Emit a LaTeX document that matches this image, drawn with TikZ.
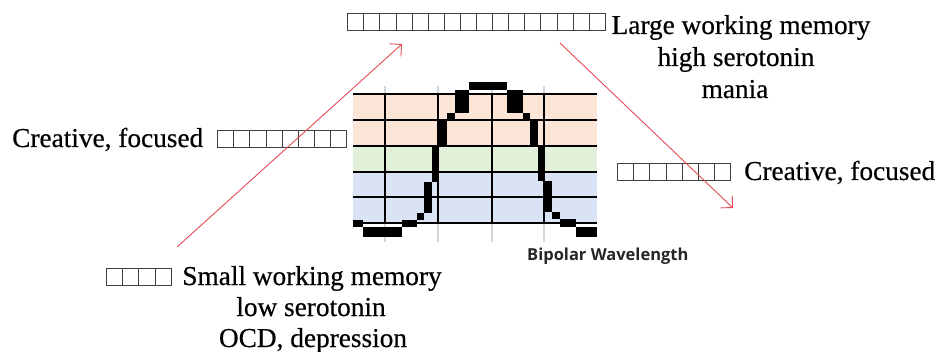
\documentclass[tikz,border=0pt]{standalone}
\usepackage{fontspec}
\setmainfont{Liberation Serif}
\newfontfamily\heavyserif{Liberation Serif}[FakeBold=0.45]
\newfontfamily\labelfont{Open Sans}
\usetikzlibrary{arrows.meta}
\definecolor{bandorange}{HTML}{FBE5D6}
\definecolor{bandgreen}{HTML}{E2F0D9}
\definecolor{bandblue}{HTML}{DAE3F3}
\definecolor{arrowred}{RGB}{232,72,86}
\definecolor{tofugray}{HTML}{404040}
\definecolor{ticklight}{HTML}{D6D6D6}
\newcount\tofucnt
\newcommand\tofurow[1]{\hbox{\color{tofugray}\tofucnt=0 \vrule width 0.9pt\loop\ifnum\tofucnt<#1 \advance\tofucnt 1 \vbox{\hrule height 0.9pt\hbox to 15.2pt{\vrule height 16.4pt width 0pt\hfil}\hrule height 0.9pt}\vrule width 0.9pt\repeat}}
\tikzset{
  bigtext/.style={font=\heavyserif\fontsize{27.3}{32}\selectfont, inner sep=0pt},
  tofunode/.style={inner sep=0pt, anchor=south west},
  redarrow/.style={draw=arrowred, line width=0.9pt, -{Straight Barb[length=8.5pt,width=17pt]}},
  hline/.style={line width=2.6pt, black},
  vline/.style={line width=1.6pt, black},
  tick/.style={line width=1.2pt, ticklight},
  pix/.style={fill=black}
}
\begin{document}
\begin{tikzpicture}[x=1pt,y=-1pt]
\useasboundingbox (0,0) rectangle (941,352);
% bands
\fill[bandorange] (353,94) rectangle (597,146);
\fill[bandgreen] (353,146) rectangle (597,172);
\fill[bandblue] (353,172) rectangle (597,223);
% light ticks
\foreach \x in {385,438,492,544} \draw[tick] (\x,86) -- (\x,242);
\foreach \x in {385,438,492,544} \draw[vline] (\x,94) -- (\x,223);
% horizontal lines
\foreach \y in {94,120,146,172,197,223} \draw[hline] (353,\y) -- (597,\y);
% curve (pixel blocks)
\fill[pix] (353,220) rectangle (363,227);
\fill[pix] (363,227) rectangle (402,237);
\fill[pix] (402,220) rectangle (417,227);
\fill[pix] (417,213) rectangle (424,220);
\fill[pix] (424,182) rectangle (432,213);
\fill[pix] (432,146) rectangle (439,182);
\fill[pix] (439,120) rectangle (447,146);
\fill[pix] (447,113) rectangle (455,120);
\fill[pix] (455,90) rectangle (469,113);
\fill[pix] (469,82) rectangle (507,90);
\fill[pix] (507,90) rectangle (523,113);
\fill[pix] (523,113) rectangle (530,120);
\fill[pix] (530,120) rectangle (538,145);
\fill[pix] (538,145) rectangle (545,181);
\fill[pix] (544,181) rectangle (552,212);
\fill[pix] (552,212) rectangle (560,219);
\fill[pix] (560,219) rectangle (576,227);
\fill[pix] (576,227) rectangle (597,237);
% axis label
\node[inner sep=0pt, anchor=base west, font=\labelfont\bfseries\fontsize{16.5}{18}\selectfont, text=black!85] (wave) at (527,261) {Bipolar Wavelength};
% texts
\node[tofunode] (tofuTop) at (347,31) {\tofurow{16}};
\node[bigtext,anchor=base] (large) at (741,34) {Large working memory};
\node[bigtext,anchor=base] (high) at (736,66) {high serotonin};
\node[bigtext,anchor=base] (mania) at (735,98) {mania};
\node[bigtext,anchor=base west] (crL) at (12,147) {Creative, focused};
\node[tofunode] (tofuLeft) at (217,148) {\tofurow{8}};
\node[tofunode] (tofuRight) at (617,181) {\tofurow{7}};
\node[bigtext,anchor=base west] (crR) at (744,180) {Creative, focused};
\node[tofunode] (tofuBottom) at (106,286) {\tofurow{4}};
\node[bigtext,anchor=base] (small) at (312,285) {Small working memory};
\node[bigtext,anchor=base] (low) at (311,316) {low serotonin};
\node[bigtext,anchor=base] (ocd) at (313,347) {OCD, depression};
% arrows
\coordinate (a1s) at (177,247);
\coordinate (a1e) at (402,44);
\coordinate (a2s) at (560,43);
\coordinate (a2e) at (733,208);
\draw[redarrow] (a1s) -- (a1e);
\draw[redarrow] (a2s) -- (a2e);
\end{tikzpicture}
\end{document}
